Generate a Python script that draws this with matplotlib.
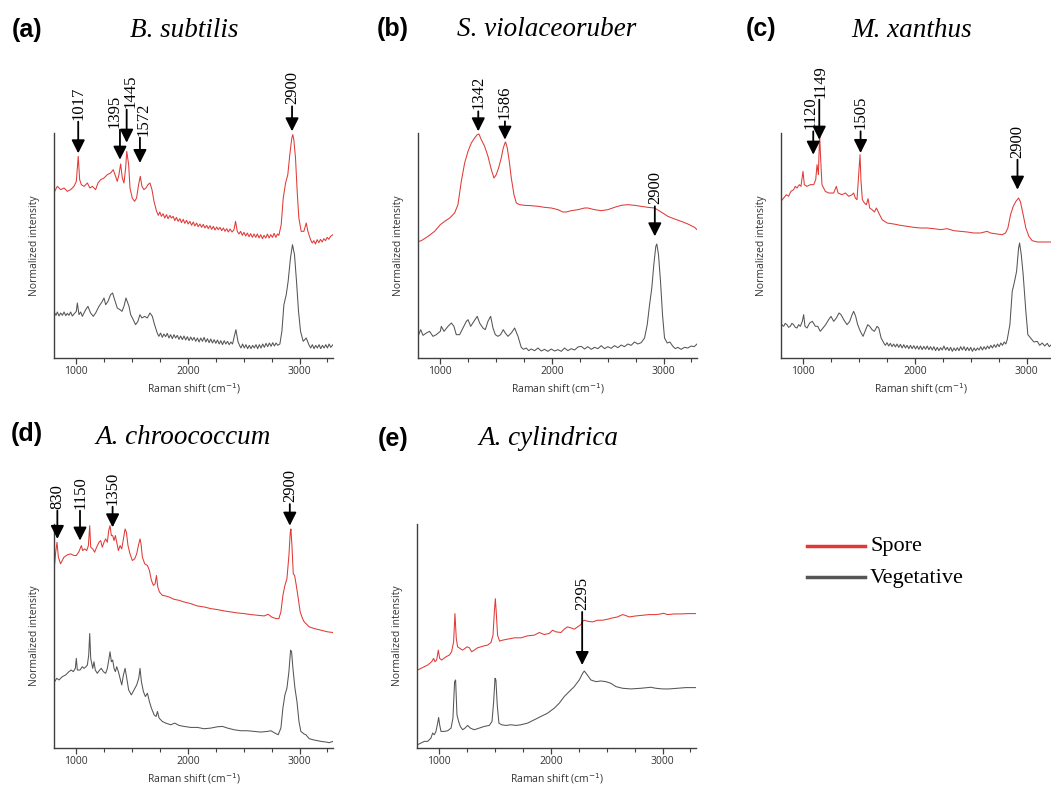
import matplotlib
matplotlib.use("Agg")
import matplotlib.pyplot as plt
from matplotlib.lines import Line2D
from matplotlib.ticker import MultipleLocator

# Raman spectra, (shift cm-1, intensity a.u.) read per panel
a_spore = [(806, 500), (830, 515), (860, 505), (890, 510), (919, 500), (949, 505), (979, 515), (1000, 530),
           (1017, 605), (1030, 535), (1045, 520), (1069, 515), (1099, 525), (1122, 510), (1143, 515), (1173, 505),
           (1194, 525), (1218, 535), (1248, 540), (1278, 550), (1307, 555), (1331, 565), (1346, 550), (1367, 530),
           (1382, 550), (1397, 582), (1412, 540), (1427, 525), (1442, 570), (1452, 620), (1469, 580), (1481, 510),
           (1501, 480), (1522, 470), (1540, 480), (1558, 520), (1573, 545), (1588, 515), (1606, 505), (1624, 510),
           (1642, 520), (1660, 525), (1678, 505), (1696, 470), (1719, 440), (1735, 428), (1748, 438), (1762, 425),
           (1778, 433), (1792, 420), (1808, 430), (1822, 418), (1838, 428), (1852, 420), (1868, 425), (1882, 412),
           (1897, 422), (1912, 410), (1928, 418), (1942, 406), (1958, 416), (1972, 404), (1988, 413), (2002, 402),
           (2018, 410), (2033, 398), (2048, 408), (2062, 396), (2078, 405), (2092, 394), (2108, 402), (2122, 392),
           (2138, 401), (2152, 390), (2168, 398), (2182, 388), (2198, 397), (2212, 386), (2228, 395), (2242, 384),
           (2258, 393), (2272, 385), (2288, 392), (2302, 382), (2318, 390), (2332, 380), (2348, 388), (2362, 378),
           (2378, 387), (2395, 378), (2412, 384), (2427, 410), (2442, 380), (2458, 372), (2472, 380), (2488, 368),
           (2502, 377), (2518, 366), (2532, 375), (2548, 364), (2562, 373), (2578, 362), (2592, 372), (2608, 362),
           (2622, 372), (2638, 360), (2652, 370), (2668, 358), (2682, 368), (2698, 360), (2712, 372), (2728, 360),
           (2742, 370), (2758, 362), (2772, 374), (2788, 362), (2802, 372), (2815, 368), (2836, 400), (2854, 480),
           (2875, 525), (2895, 550), (2913, 610), (2931, 660), (2940, 670), (2949, 655), (2964, 600), (2979, 500),
           (2994, 420), (3015, 380), (3039, 380), (3060, 405), (3075, 380), (3099, 355), (3114, 345), (3128, 352),
           (3143, 342), (3158, 355), (3173, 346), (3188, 356), (3203, 348), (3218, 358), (3233, 352), (3248, 362),
           (3263, 356), (3278, 365), (3300, 370)]
a_veg = [(806, 135), (818, 128), (830, 138), (845, 126), (860, 135), (875, 128), (890, 138), (905, 127),
         (919, 134), (934, 128), (949, 138), (964, 126), (979, 132), (1000, 140), (1009, 165), (1024, 130),
         (1039, 138), (1054, 125), (1084, 145), (1104, 155), (1128, 135), (1152, 125), (1173, 135), (1203, 155),
         (1233, 170), (1248, 180), (1263, 160), (1284, 170), (1307, 190), (1325, 195), (1343, 175), (1367, 150),
         (1391, 145), (1409, 140), (1427, 155), (1445, 180), (1472, 155), (1487, 130), (1510, 115), (1531, 100),
         (1552, 110), (1570, 130), (1588, 120), (1612, 125), (1636, 120), (1660, 135), (1681, 125), (1701, 100),
         (1725, 75), (1740, 65), (1755, 75), (1770, 62), (1785, 72), (1800, 64), (1815, 74), (1830, 60),
         (1845, 70), (1860, 58), (1875, 70), (1890, 60), (1905, 68), (1920, 56), (1935, 66), (1950, 55),
         (1965, 66), (1980, 54), (1995, 64), (2010, 52), (2025, 63), (2040, 53), (2055, 62), (2070, 50),
         (2085, 60), (2100, 48), (2115, 60), (2130, 50), (2145, 62), (2160, 48), (2175, 58), (2190, 46),
         (2205, 57), (2220, 45), (2235, 55), (2250, 44), (2265, 54), (2280, 42), (2295, 52), (2310, 40),
         (2325, 52), (2340, 42), (2355, 50), (2370, 40), (2385, 48), (2400, 42), (2412, 60), (2430, 85),
         (2448, 50), (2462, 38), (2475, 30), (2490, 42), (2505, 30), (2520, 40), (2535, 28), (2550, 38),
         (2565, 28), (2580, 38), (2595, 30), (2610, 40), (2625, 28), (2640, 40), (2655, 30), (2670, 42),
         (2685, 32), (2700, 44), (2715, 34), (2730, 45), (2745, 35), (2760, 46), (2775, 36), (2790, 45),
         (2805, 38), (2824, 42), (2842, 80), (2860, 160), (2881, 190), (2898, 230), (2919, 300), (2937, 340),
         (2955, 310), (2973, 230), (2991, 140), (3009, 80), (3033, 50), (3060, 60), (3084, 40), (3100, 30),
         (3115, 40), (3130, 28), (3145, 38), (3160, 30), (3175, 40), (3190, 28), (3205, 38), (3220, 30),
         (3235, 40), (3250, 30), (3265, 42), (3280, 32), (3300, 40)]

b_spore = [(806, 350), (830, 352), (890, 365), (949, 380), (1000, 400), (1039, 410), (1084, 420), (1128, 435),
           (1158, 460), (1188, 530), (1218, 585), (1248, 620), (1278, 645), (1307, 660), (1331, 670), (1346, 672),
           (1367, 655), (1397, 635), (1427, 605), (1457, 565), (1481, 540), (1501, 550), (1522, 570), (1546, 600),
           (1564, 630), (1579, 645), (1585, 648), (1600, 630), (1618, 590), (1636, 540), (1660, 490), (1681, 465),
           (1710, 460), (1755, 458), (1815, 457), (1875, 455), (1934, 452), (1994, 450), (2054, 445), (2098, 438),
           (2128, 438), (2173, 442), (2233, 445), (2293, 450), (2322, 450), (2382, 445), (2442, 442), (2501, 445),
           (2561, 452), (2621, 458), (2680, 460), (2740, 458), (2800, 455), (2860, 452), (2919, 450), (2979, 438),
           (3039, 425), (3099, 417), (3158, 410), (3218, 402), (3278, 392), (3300, 385)]
b_veg = [(806, 70), (824, 85), (845, 68), (875, 75), (904, 80), (934, 65), (964, 70), (1000, 80), (1009, 95),
         (1033, 80), (1069, 95), (1099, 105), (1122, 95), (1143, 70), (1173, 70), (1203, 90), (1233, 110),
         (1248, 115), (1272, 95), (1301, 110), (1331, 125), (1352, 105), (1382, 90), (1403, 85), (1427, 110),
         (1451, 125), (1472, 90), (1493, 70), (1516, 65), (1540, 70), (1564, 85), (1582, 75), (1606, 65),
         (1636, 75), (1666, 90), (1696, 65), (1725, 32), (1745, 26), (1770, 30), (1792, 22), (1815, 27),
         (1845, 22), (1875, 30), (1905, 21), (1934, 26), (1964, 20), (1994, 27), (2024, 21), (2054, 25),
         (2084, 20), (2113, 30), (2143, 22), (2173, 28), (2203, 24), (2233, 33), (2263, 35), (2292, 27),
         (2322, 34), (2352, 26), (2382, 32), (2412, 28), (2442, 37), (2472, 28), (2501, 34), (2531, 29),
         (2561, 37), (2591, 31), (2621, 39), (2650, 34), (2680, 42), (2710, 38), (2740, 48), (2770, 42),
         (2800, 46), (2830, 60), (2854, 100), (2875, 160), (2895, 210), (2913, 280), (2931, 335), (2940, 342),
         (2955, 310), (2973, 230), (2991, 130), (3009, 60), (3033, 45), (3057, 48), (3084, 35), (3106, 28),
         (3128, 32), (3158, 26), (3188, 32), (3218, 30), (3248, 36), (3275, 34), (3300, 42)]

c_spore = [(800, 470), (824, 480), (848, 490), (868, 485), (889, 500), (913, 505), (928, 515), (943, 510),
           (964, 520), (979, 515), (997, 560), (1009, 520), (1033, 515), (1063, 520), (1093, 520), (1111, 535),
           (1123, 580), (1135, 550), (1146, 670), (1155, 600), (1167, 520), (1197, 500), (1227, 495), (1272, 495),
           (1296, 515), (1311, 495), (1347, 490), (1377, 495), (1407, 485), (1437, 490), (1451, 495), (1466, 480),
           (1481, 475), (1496, 550), (1508, 610), (1517, 530), (1529, 475), (1547, 465), (1565, 460), (1580, 478),
           (1595, 450), (1616, 445), (1637, 438), (1655, 450), (1676, 435), (1706, 415), (1751, 405), (1810, 402),
           (1870, 398), (1930, 395), (1990, 392), (2049, 390), (2109, 390), (2169, 388), (2229, 385), (2289, 388),
           (2348, 382), (2408, 380), (2468, 378), (2528, 375), (2588, 375), (2647, 380), (2677, 375), (2737, 372),
           (2782, 370), (2812, 375), (2833, 390), (2857, 430), (2881, 455), (2905, 470), (2929, 480), (2946, 468),
           (2970, 430), (2994, 390), (3021, 365), (3051, 352), (3096, 348), (3156, 348), (3222, 348), (3300, 348)]
c_veg = [(800, 105), (812, 98), (824, 95), (838, 104), (853, 100), (868, 92), (883, 95), (898, 104),
         (913, 100), (928, 92), (943, 90), (958, 100), (973, 95), (991, 110), (1003, 130), (1015, 95),
         (1033, 90), (1057, 105), (1081, 110), (1108, 95), (1129, 95), (1152, 80), (1176, 90), (1200, 100),
         (1227, 115), (1248, 125), (1272, 110), (1296, 120), (1320, 135), (1338, 130), (1362, 115), (1392, 100),
         (1416, 110), (1437, 130), (1451, 140), (1469, 125), (1487, 100), (1511, 80), (1535, 65), (1559, 85),
         (1577, 100), (1595, 95), (1616, 85), (1637, 80), (1661, 95), (1676, 90), (1697, 60), (1721, 45),
         (1735, 38), (1750, 46), (1765, 36), (1780, 44), (1795, 34), (1810, 42), (1825, 33), (1840, 42),
         (1855, 32), (1870, 41), (1885, 30), (1900, 40), (1915, 30), (1930, 38), (1945, 28), (1960, 38),
         (1975, 28), (1990, 37), (2005, 27), (2020, 36), (2035, 26), (2050, 36), (2065, 25), (2080, 35),
         (2095, 26), (2110, 36), (2125, 25), (2140, 34), (2155, 24), (2170, 34), (2185, 22), (2200, 32),
         (2215, 22), (2230, 31), (2245, 24), (2260, 36), (2275, 24), (2290, 32), (2305, 22), (2320, 32),
         (2335, 20), (2350, 30), (2365, 22), (2380, 31), (2395, 22), (2410, 34), (2425, 24), (2440, 34),
         (2455, 22), (2470, 32), (2485, 22), (2500, 32), (2515, 20), (2530, 30), (2545, 22), (2560, 30),
         (2575, 24), (2590, 34), (2605, 24), (2620, 34), (2635, 26), (2650, 36), (2665, 28), (2680, 38),
         (2695, 30), (2710, 40), (2725, 32), (2740, 42), (2755, 34), (2770, 45), (2785, 38), (2800, 48),
         (2815, 42), (2827, 55), (2851, 100), (2872, 200), (2893, 230), (2911, 260), (2929, 330), (2938, 345),
         (2953, 310), (2970, 250), (2994, 140), (3012, 70), (3036, 60), (3066, 48), (3096, 50), (3118, 38),
         (3141, 45), (3163, 36), (3186, 44), (3204, 34), (3222, 40), (3300, 40)]

d_spore = [(806, 555), (815, 590), (827, 620), (839, 575), (859, 555), (889, 575), (919, 582), (949, 585),
           (979, 580), (1000, 580), (1024, 592), (1045, 610), (1057, 595), (1075, 600), (1093, 595), (1108, 610),
           (1120, 670), (1129, 605), (1147, 600), (1164, 590), (1182, 605), (1203, 620), (1218, 625), (1233, 605),
           (1248, 620), (1263, 630), (1278, 620), (1290, 655), (1302, 670), (1314, 640), (1326, 640), (1338, 625),
           (1350, 640), (1362, 620), (1377, 595), (1392, 610), (1407, 600), (1422, 630), (1437, 660), (1449, 650),
           (1463, 610), (1481, 585), (1502, 565), (1523, 570), (1541, 585), (1556, 610), (1571, 630), (1580, 615),
           (1592, 575), (1613, 555), (1637, 550), (1655, 535), (1673, 505), (1691, 490), (1706, 495), (1718, 520),
           (1730, 485), (1745, 470), (1771, 460), (1801, 458), (1831, 455), (1876, 448), (1921, 445), (1966, 440),
           (2026, 435), (2085, 428), (2145, 425), (2205, 420), (2265, 417), (2325, 413), (2384, 410), (2444, 407),
           (2504, 405), (2564, 402), (2624, 400), (2683, 398), (2719, 403), (2749, 395), (2788, 390), (2815, 390),
           (2833, 410), (2851, 460), (2869, 490), (2887, 510), (2905, 580), (2917, 650), (2923, 660), (2932, 610),
           (2944, 525), (2956, 520), (2971, 490), (2989, 450), (3006, 410), (3027, 390), (3042, 380), (3057, 375),
           (3087, 365), (3132, 360), (3192, 355), (3252, 350), (3300, 348)]
d_veg = [(806, 200), (824, 210), (845, 205), (874, 215), (904, 220), (934, 230), (955, 235), (973, 230),
         (991, 240), (1000, 270), (1009, 235), (1033, 235), (1054, 245), (1069, 240), (1087, 245), (1099, 250),
         (1111, 280), (1120, 345), (1129, 270), (1147, 240), (1158, 260), (1170, 235), (1188, 225), (1209, 235),
         (1224, 240), (1242, 230), (1263, 225), (1278, 240), (1293, 270), (1302, 290), (1314, 260), (1326, 265),
         (1338, 240), (1350, 230), (1362, 245), (1377, 230), (1392, 210), (1407, 190), (1422, 220), (1437, 240),
         (1452, 210), (1469, 175), (1493, 160), (1517, 175), (1541, 190), (1559, 210), (1571, 240), (1583, 200),
         (1601, 170), (1619, 155), (1637, 165), (1655, 140), (1673, 120), (1697, 100), (1715, 95), (1727, 110),
         (1742, 90), (1771, 80), (1801, 75), (1846, 70), (1882, 75), (1921, 68), (1966, 65), (2026, 62),
         (2085, 62), (2145, 58), (2205, 60), (2265, 64), (2310, 65), (2355, 60), (2414, 55), (2474, 52),
         (2534, 52), (2594, 50), (2653, 48), (2713, 50), (2743, 52), (2779, 45), (2809, 40), (2833, 60),
         (2851, 120), (2869, 160), (2887, 180), (2905, 230), (2920, 295), (2929, 290), (2941, 240), (2959, 180),
         (2977, 140), (2995, 80), (3012, 50), (3042, 42), (3057, 40), (3087, 28), (3132, 24), (3192, 20),
         (3237, 18), (3266, 16), (3300, 20)]

e_spore = [(806, 235), (836, 240), (866, 245), (896, 250), (931, 260), (949, 270), (961, 260), (976, 265),
           (991, 295), (1003, 270), (1021, 265), (1060, 275), (1090, 280), (1110, 290), (1128, 320), (1140, 405),
           (1152, 330), (1164, 305), (1185, 300), (1209, 295), (1230, 300), (1248, 305), (1269, 302), (1290, 290),
           (1313, 295), (1343, 302), (1373, 305), (1403, 308), (1433, 310), (1463, 318), (1481, 340), (1493, 410),
           (1502, 450), (1510, 410), (1522, 340), (1540, 322), (1567, 325), (1612, 328), (1672, 332), (1731, 332),
           (1791, 338), (1851, 340), (1896, 348), (1940, 342), (1985, 345), (2015, 355), (2045, 350), (2090, 348),
           (2119, 358), (2149, 365), (2179, 362), (2209, 358), (2239, 365), (2269, 372), (2284, 382), (2299, 385),
           (2328, 382), (2373, 380), (2418, 385), (2463, 385), (2507, 388), (2552, 392), (2597, 395), (2642, 402),
           (2663, 400), (2702, 395), (2761, 398), (2821, 400), (2881, 402), (2940, 402), (2985, 404), (3009, 406),
           (3045, 402), (3104, 404), (3164, 404), (3224, 405), (3300, 405)]
e_veg = [(806, 10), (836, 15), (866, 20), (896, 20), (925, 30), (940, 45), (955, 40), (970, 50), (985, 75),
         (994, 92), (1003, 70), (1015, 50), (1045, 50), (1075, 52), (1105, 60), (1122, 90), (1137, 200),
         (1146, 205), (1158, 100), (1173, 80), (1188, 65), (1209, 55), (1230, 60), (1254, 68), (1278, 60),
         (1313, 55), (1358, 60), (1403, 65), (1448, 68), (1472, 80), (1487, 140), (1499, 210), (1507, 205),
         (1519, 130), (1534, 75), (1558, 70), (1597, 68), (1642, 70), (1687, 68), (1731, 70), (1791, 75),
         (1851, 85), (1910, 95), (1970, 105), (2030, 120), (2075, 135), (2119, 155), (2164, 170), (2209, 185),
         (2254, 205), (2284, 225), (2299, 232), (2322, 222), (2358, 205), (2403, 200), (2448, 202), (2492, 200),
         (2537, 195), (2582, 185), (2642, 180), (2716, 178), (2806, 180), (2895, 183), (2940, 180), (3000, 178),
         (3060, 178), (3134, 180), (3209, 182), (3300, 182)]

# peak arrows: (arrow x, tip y, tail y, label, label x)
a_marks = [(1017, 614, 709, "1017", 1017), (1391, 595, 685, "1395", 1346), (1451, 646, 745, "1445", 1487),
           (1570, 585, 661, "1572", 1606), (2933, 680, 755, "2900", 2933)]
b_marks = [(1340, 680, 740, "1342", 1340), (1579, 655, 710, "1586", 1579), (2922, 365, 455, "2900", 2922)]
c_marks = [(1089, 610, 680, "1120", 1060), (1143, 655, 775, "1149", 1155), (1513, 615, 680, "1505", 1513),
           (2919, 505, 595, "2900", 2919)]
d_marks = [(830, 630, 715, "830", 830), (1033, 625, 715, "1150", 1033), (1325, 665, 727, "1350", 1325),
           (2913, 670, 735, "2900", 2913)]
e_marks = [(2280, 250, 410, "2295", 2280)]

RED = "#e03a36"
GREY = "#555555"
AXC = "#404040"
W, H = 1051, 786

plt.rcParams["font.family"] = ["Open Sans", "DejaVu Sans"]
fig = plt.figure(figsize=(W / 100, H / 100), dpi=100)
fig.patch.set_facecolor("white")


def px_rect(left, top, width, height):
    return [left / W, 1 - (top + height) / H, width / W, height / H]


def panel(rect, spore, veg, marks):
    ax = fig.add_axes(px_rect(*rect))
    ax.plot([p[0] for p in veg], [p[1] for p in veg], color=GREY, lw=0.75)
    ax.plot([p[0] for p in spore], [p[1] for p in spore], color=RED, lw=0.75)
    ax.set_xlim(800, 3300)
    ax.set_ylim(0, 675)
    for s in ["top", "right"]:
        ax.spines[s].set_visible(False)
    for s in ["left", "bottom"]:
        ax.spines[s].set_color(AXC)
        ax.spines[s].set_linewidth(1.0)
    ax.set_yticks([])
    ax.set_xticks([1000, 2000, 3000])
    ax.xaxis.set_minor_locator(MultipleLocator(250))
    ax.tick_params(axis="x", which="major", direction="out", length=4, width=0.9,
                   color=AXC, labelsize=7.5, labelcolor="#333333", pad=2)
    ax.tick_params(axis="x", which="minor", direction="out", length=3, width=0.8, color=AXC)
    ax.set_xlabel("Raman shift (cm$^{-1}$)", fontsize=7.5, color="#333333", labelpad=3)
    ax.set_ylabel("Normalized intensity", fontsize=7.5, color="#333333", labelpad=10)
    for x, tip, tail, lab, tx in marks:
        ax.annotate("", xy=(x, tip), xytext=(x, tail), annotation_clip=False,
                    arrowprops=dict(arrowstyle="-|>", color="black", lw=1.3,
                                    mutation_scale=20, shrinkA=0, shrinkB=0))
        ax.text(tx, tail + 6, lab, rotation=90, ha="center", va="bottom",
                fontsize=12, family="Liberation Serif", clip_on=False)
    return ax


panel((54, 133, 279, 225), a_spore, a_veg, a_marks)
panel((418, 133, 279, 225), b_spore, b_veg, b_marks)
panel((781, 133, 279, 225), c_spore, c_veg, c_marks)
panel((54, 524, 279, 224), d_spore, d_veg, d_marks)
panel((417, 524, 279, 224), e_spore, e_veg, e_marks)

# panel tags and species names
tags = ["(a)", "(b)", "(c)", "(d)", "(e)"]
tag_pos = [(27, 37), (393, 36), (761, 36), (27, 441), (393, 446)]
species = ["B. subtilis", "S. violaceoruber", "M. xanthus", "A. chroococcum", "A. cylindrica"]
species_pos = [(184, 37), (547, 36), (912, 37), (183, 444), (548, 445)]

for t, (x, y) in zip(tags, tag_pos):
    fig.text(x / W, 1 - y / H, t, ha="center", va="baseline", fontsize=18,
             fontweight="bold", family="Liberation Sans")
for s, (x, y) in zip(species, species_pos):
    fig.text(x / W, 1 - y / H, s, ha="center", va="baseline", fontsize=19.5,
             style="italic", family="Liberation Serif")

# legend
for y, c, lab in [(546, RED, "Spore"), (577, GREY, "Vegetative")]:
    fig.add_artist(Line2D([807 / W, 865 / W], [1 - y / H, 1 - y / H], color=c, lw=2.5))
    fig.text(870 / W, 1 - (y + 1) / H, lab, ha="left", va="center", fontsize=16,
             family="Liberation Serif")

fig.savefig("out.png", dpi=100)
